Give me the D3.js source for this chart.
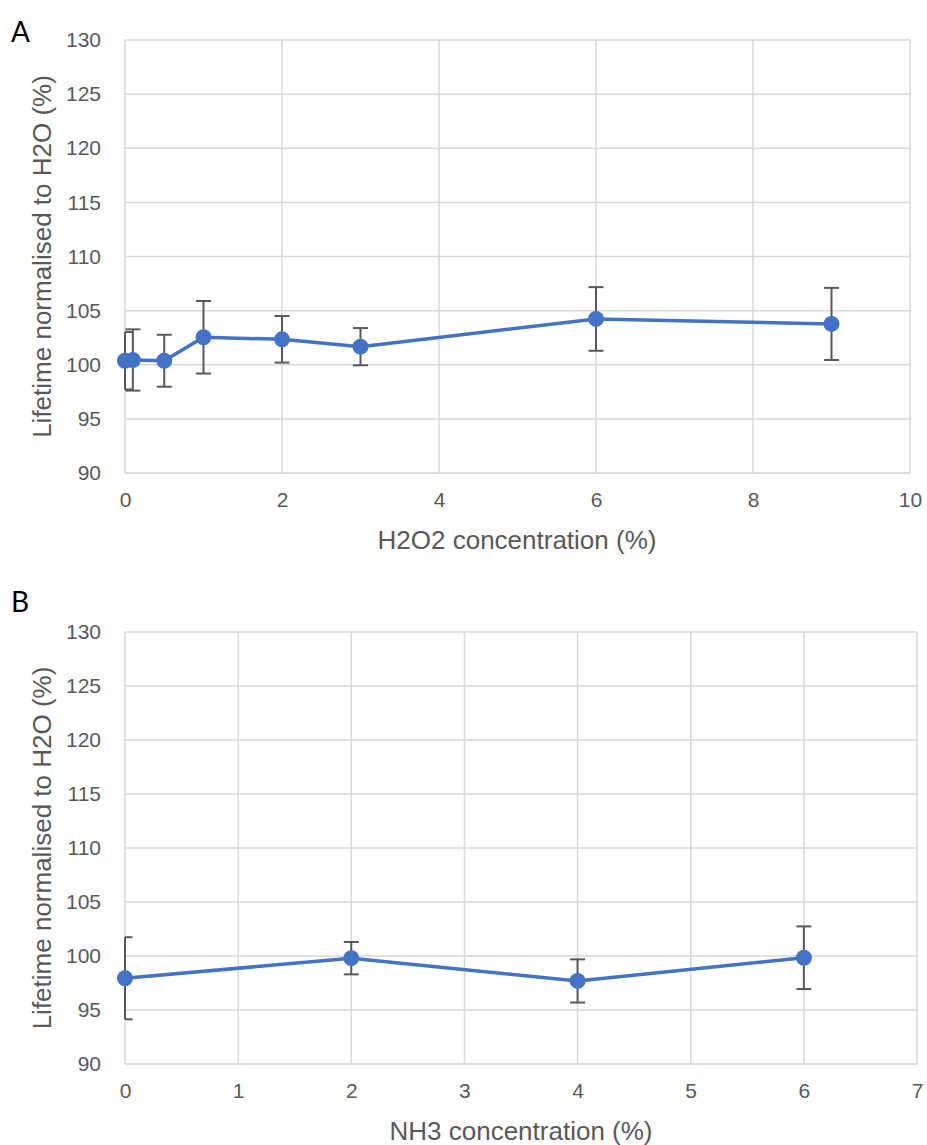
<!DOCTYPE html>
<html><head><meta charset="utf-8">
<script src="https://cdn.jsdelivr.net/npm/d3@7"></script>
<style>body{margin:0;background:#fff}svg{display:block}</style>
</head><body>
<svg id="c" width="927" height="1145"></svg>
<script>
// Panel A data
const aX = [0, 0.1, 0.5, 1, 2, 3, 6, 9];
const aY = [100.37, 100.44, 100.37, 102.54, 102.35, 101.67, 104.23, 103.77];
const aErr = [2.65, 2.83, 2.4, 3.35, 2.15, 1.72, 2.94, 3.33];
const aXTicks = [0, 2, 4, 6, 8, 10];
// Panel B data
const bX = [0, 2, 4, 6];
const bY = [97.94, 99.8, 97.69, 99.84];
const bErr = [3.8, 1.5, 2.0, 2.9];
const bXTicks = [0, 1, 2, 3, 4, 5, 6, 7];
const yTicks = [90, 95, 100, 105, 110, 115, 120, 125, 130];

const svg = d3.select("#c");
const FONT = "'Liberation Sans', Arial, Helvetica, sans-serif";
const TXT = "#595959";

function panel(o) {
  const x = d3.scaleLinear().domain(o.xDomain).range([o.left, o.right]);
  const y = d3.scaleLinear().domain([90, 130]).range([o.bottom, o.top]);
  const g = svg.append("g");
  // gridlines
  g.append("g").selectAll("line").data(yTicks).join("line")
    .attr("x1", o.left).attr("x2", o.right)
    .attr("y1", d => y(d)).attr("y2", d => y(d))
    .attr("stroke", d => d === 90 ? "#d0d0d0" : "#d9d9d9").attr("stroke-width", 1.5);
  g.append("g").selectAll("line").data(o.xTicks).join("line")
    .attr("x1", d => x(d)).attr("x2", d => x(d))
    .attr("y1", o.top).attr("y2", o.bottom)
    .attr("stroke", "#d9d9d9").attr("stroke-width", 1.5);
  // y tick labels
  const ya = d3.axisLeft(y).tickValues(yTicks).tickFormat(d3.format("d")).tickSize(0).tickPadding(24);
  const yg = g.append("g").attr("transform", `translate(${o.left},0)`).call(ya);
  yg.select(".domain").remove();
  yg.selectAll("text").attr("fill", TXT).style("font-family", FONT).style("font-size", "21px");
  // x tick labels
  const xa = d3.axisBottom(x).tickValues(o.xTicks).tickFormat(d3.format("d")).tickSize(0).tickPadding(19);
  const xg = g.append("g").attr("transform", `translate(0,${o.bottom})`).call(xa);
  xg.select(".domain").remove();
  xg.selectAll("text").attr("fill", TXT).style("font-family", FONT).style("font-size", "21px");
  // titles
  g.append("text").attr("x", o.xTitleX).attr("y", o.bottom + 76)
    .attr("text-anchor", "middle").attr("fill", TXT)
    .style("font-family", FONT).style("font-size", "26px").text(o.xTitle);
  g.append("text").attr("transform", `translate(51,${(o.top + o.bottom) / 2}) rotate(-90)`)
    .attr("text-anchor", "middle").attr("fill", TXT)
    .style("font-family", FONT).style("font-size", "26px").text("Lifetime normalised to H2O (%)");
  // panel letter
  g.append("text").attr("x", o.letterX).attr("y", o.letterY)
    .attr("fill", "#000").style("font-family", "Lato, 'Open Sans', sans-serif")
    .style("font-size", "28px").text(o.letter);
  const data = o.xs.map((v, i) => ({ x: v, y: o.ys[i], e: o.errs[i] }));
  // error bars
  const eb = g.append("g").attr("stroke", "#595959").attr("stroke-width", 2);
  eb.selectAll("line.v").data(data).join("line").attr("class", "v")
    .attr("x1", d => x(d.x)).attr("x2", d => x(d.x))
    .attr("y1", d => y(d.y + d.e)).attr("y2", d => y(d.y - d.e));
  ["top", "bot"].forEach(k => {
    eb.selectAll("line." + k).data(data).join("line").attr("class", k)
      .attr("x1", d => Math.max(x(d.x) - 7.5, o.left)).attr("x2", d => x(d.x) + 7.5)
      .attr("y1", d => y(k === "top" ? d.y + d.e : d.y - d.e))
      .attr("y2", d => y(k === "top" ? d.y + d.e : d.y - d.e));
  });
  // line
  g.append("path").datum(data)
    .attr("d", d3.line().x(d => x(d.x)).y(d => y(d.y)))
    .attr("fill", "none").attr("stroke", "#4472c4").attr("stroke-width", 3.5)
    .attr("stroke-linejoin", "round");
  g.append("g").selectAll("circle").data(data).join("circle")
    .attr("cx", d => x(d.x)).attr("cy", d => y(d.y)).attr("r", 8)
    .attr("fill", "#4472c4");
}

panel({ xDomain: [0, 10], left: 125, right: 910, top: 40, bottom: 473,
  xTicks: aXTicks, xs: aX, ys: aY, errs: aErr, xTitle: "H2O2 concentration (%)", xTitleX: 517,
  letter: "A", letterX: 11, letterY: 42 });
panel({ xDomain: [0, 7], left: 125, right: 917, top: 632, bottom: 1064,
  xTicks: bXTicks, xs: bX, ys: bY, errs: bErr, xTitle: "NH3 concentration (%)", xTitleX: 521,
  letter: "B", letterX: 11, letterY: 612 });
</script>
</body></html>
